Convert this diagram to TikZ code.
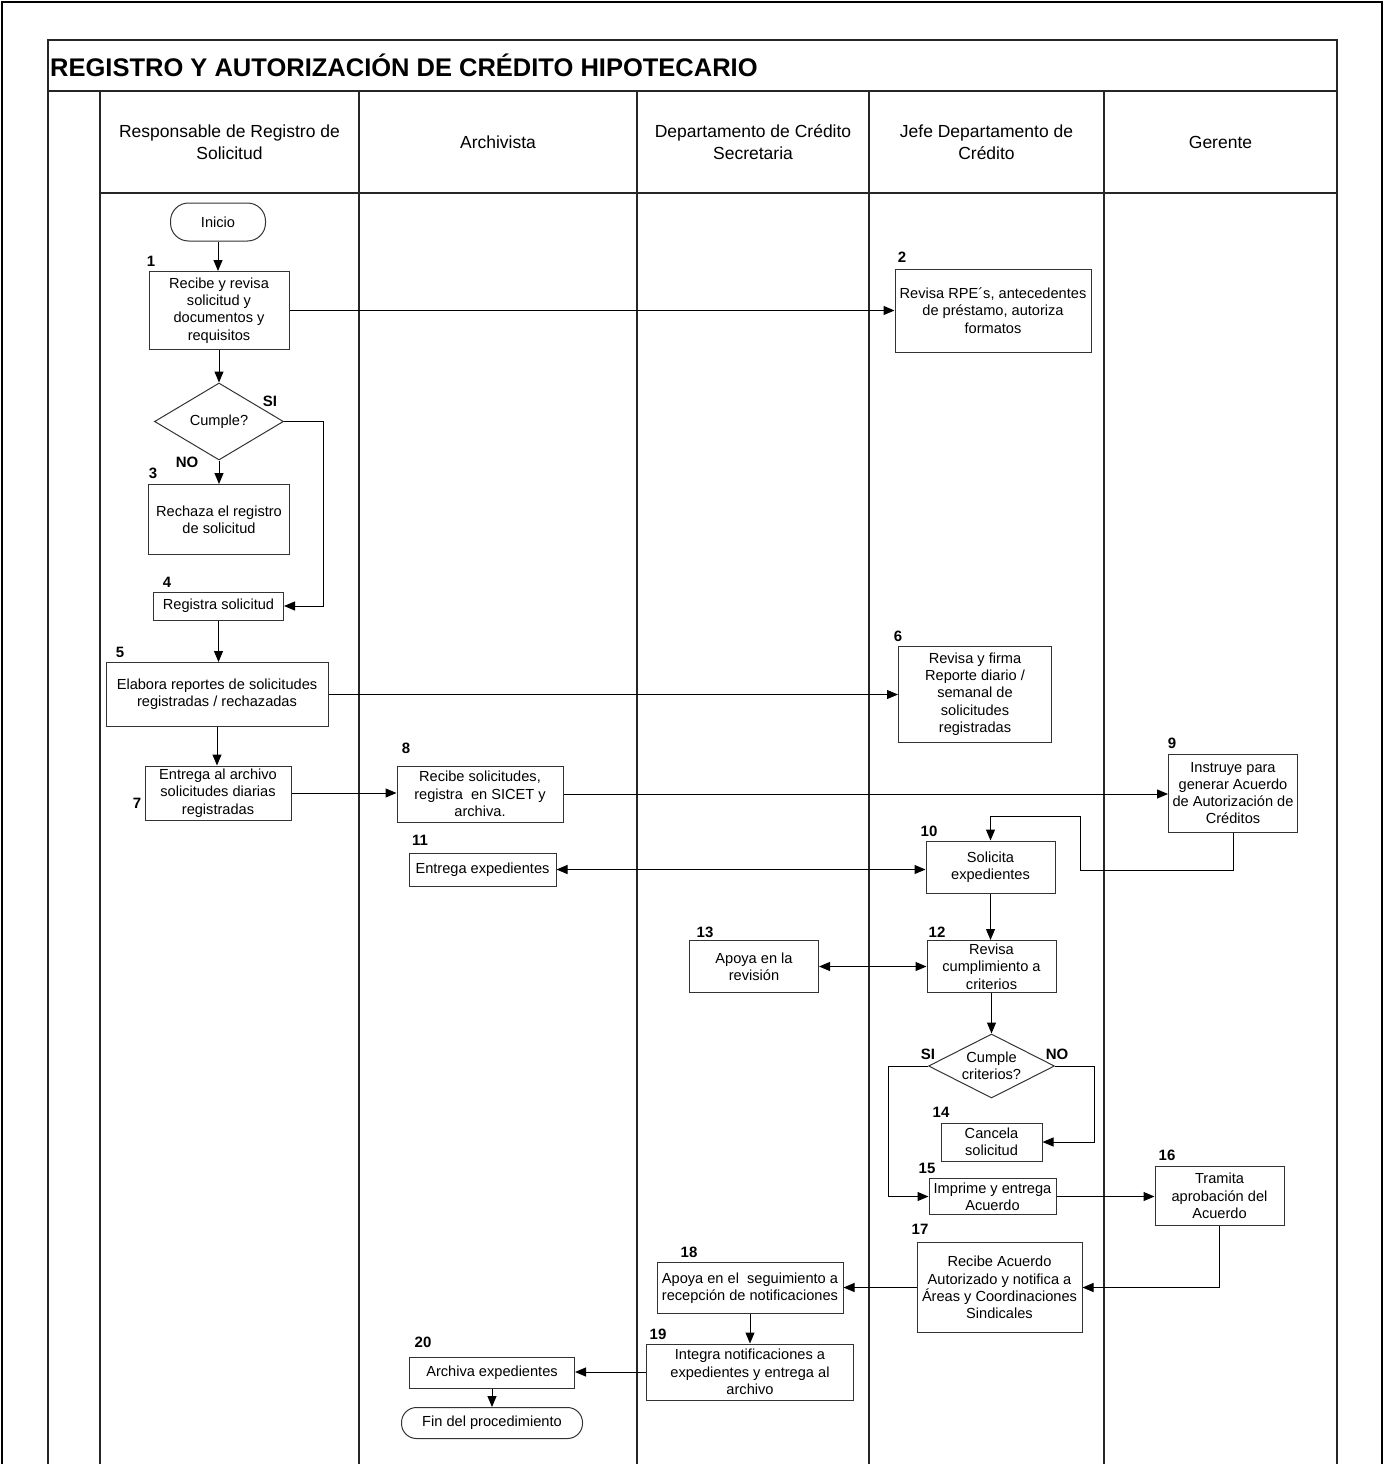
\documentclass[tikz,border=0pt]{standalone}
\usepackage{fontspec}
\setmainfont{Liberation Sans}
\usetikzlibrary{shapes.geometric,arrows.meta}
\begin{document}
\begin{tikzpicture}[x=1pt,y=-1pt,
  box/.style={draw=black!80, line width=1pt, rectangle, inner sep=0pt, align=center, font=\fontsize{14.6}{17.3}\selectfont},
  term/.style={box},
  dec/.style={draw=black!80, line width=1pt, diamond, aspect=2, inner sep=0pt, align=center, font=\fontsize{14.6}{17.3}\selectfont},
  num/.style={font=\bfseries\fontsize{15}{17}\selectfont, inner sep=0pt},
  hdr/.style={align=center, font=\fontsize{17.5}{22}\selectfont, inner sep=0pt},
  lane/.style={line width=1.5pt, black!85},
  arr/.style={line width=1pt, -{Triangle[length=11pt,width=9pt]}},
  arrb/.style={line width=1pt, {Triangle[length=11pt,width=9pt]}-{Triangle[length=11pt,width=9pt]}},
]
\useasboundingbox (0,0) rectangle (1386,1464);
% outer frame
\draw[line width=2.2pt] (2,1464) -- (2,2) -- (1382,2) -- (1382,1464);
% table
\draw[lane] (48,1464) -- (48,40) -- (1337,40) -- (1337,1464);
\draw[lane] (48,91) -- (1337,91);
\draw[lane] (100,193) -- (1337,193);
\foreach \x in {100,359,637,869,1104} \draw[lane] (\x,91) -- (\x,1464);
\node[anchor=west, font=\bfseries\fontsize{25.5}{30}\selectfont, inner sep=0pt] (title) at (50,65) {REGISTRO Y AUTORIZACIÓN DE CRÉDITO HIPOTECARIO};
% headers
\node[hdr] (h1) at (229.5,142) {Responsable de Registro de\\Solicitud};
\node[hdr] (h2) at (498,142) {Archivista};
\node[hdr] (h3) at (753,142) {Departamento de Crédito\\Secretaria};
\node[hdr] (h4) at (986.5,142) {Jefe Departamento de\\Crédito};
\node[hdr] (h5) at (1220.5,142) {Gerente};
% nodes
\node[term, minimum width=95, minimum height=38, rounded corners=18pt] (ini) at (218,222) {Inicio};
\node[box, minimum width=140, minimum height=78] (n1) at (219,310.5) {Recibe y revisa\\solicitud y\\documentos y\\requisitos};
\node[num] (l1) at (151,261) {1};
\node[box, minimum width=196, minimum height=83] (n2) at (993,310.5) {Revisa RPE´s, antecedentes\\de préstamo, autoriza\\formatos};
\node[num] (l2) at (902,257) {2};
\node[dec, minimum width=129, minimum height=77] (d1) at (219,421.5) {Cumple?};
\node[num] (si1) at (270,401) {SI};
\node[num] (no1) at (187,462) {NO};
\node[box, minimum width=141, minimum height=70] (n3) at (219,519.5) {Rechaza el registro\\de solicitud};
\node[num] (l3) at (153,473) {3};
\node[box, minimum width=130, minimum height=28] (n4) at (218.5,606) {Registra solicitud};
\node[num] (l4) at (167,582) {4};
\node[box, minimum width=222, minimum height=64] (n5) at (217,694.5) {Elabora reportes de solicitudes\\registradas / rechazadas};
\node[num] (l5) at (120,652) {5};
\node[box, minimum width=153, minimum height=96] (n6) at (975,694) {Revisa y firma\\Reporte diario /\\semanal de\\solicitudes\\registradas};
\node[num] (l6) at (898,636) {6};
\node[box, minimum width=146, minimum height=54] (n7) at (218,793) {Entrega al archivo\\solicitudes diarias\\registradas};
\node[num] (l7) at (137,803) {7};
\node[box, minimum width=166, minimum height=56] (n8) at (480,794) {Recibe solicitudes,\\registra\ \ en SICET y\\archiva.};
\node[num] (l8) at (406,748) {8};
\node[box, minimum width=129, minimum height=78] (n9) at (1233,793) {Instruye para\\generar Acuerdo\\de Autorización de\\Créditos};
\node[num] (l9) at (1172,743) {9};
\node[box, minimum width=129, minimum height=52] (n10) at (990.5,867) {Solicita\\expedientes};
\node[num] (l10) at (929,831) {10};
\node[box, minimum width=147, minimum height=33] (n11) at (482.5,869.5) {Entrega expedientes};
\node[num] (l11) at (420,840) {11};
\node[box, minimum width=129, minimum height=52] (n12) at (991.5,966.5) {Revisa\\cumplimiento a\\criterios};
\node[num] (l12) at (937,932) {12};
\node[box, minimum width=129, minimum height=52] (n13) at (754,966.5) {Apoya en la\\revisión};
\node[num] (l13) at (705,932) {13};
\node[dec, minimum width=126, minimum height=64] (d2) at (991.5,1066) {Cumple\\criterios?};
\node[num] (si2) at (928,1054) {SI};
\node[num] (no2) at (1057,1054) {NO};
\node[box, minimum width=101, minimum height=38] (n14) at (991.5,1142) {Cancela\\solicitud};
\node[num] (l14) at (941,1112) {14};
\node[box, minimum width=127, minimum height=36] (n15) at (992.5,1196.5) {Imprime y entrega\\Acuerdo};
\node[num] (l15) at (927,1168) {15};
\node[box, minimum width=129, minimum height=59] (n16) at (1219.5,1196) {Tramita\\aprobación del\\Acuerdo};
\node[num] (l16) at (1167,1155) {16};
\node[box, minimum width=165, minimum height=90] (n17) at (999.5,1287.5) {Recibe Acuerdo\\Autorizado y notifica a\\Áreas y Coordinaciones\\Sindicales};
\node[num] (l17) at (920,1229) {17};
\node[box, minimum width=186, minimum height=51] (n18) at (750,1288) {Apoya en el\ \ seguimiento a\\recepción de notificaciones};
\node[num] (l18) at (689,1252) {18};
\node[box, minimum width=207, minimum height=56] (n19) at (750,1372) {Integra notificaciones a\\expedientes y entrega al\\archivo};
\node[num] (l19) at (658,1334) {19};
\node[box, minimum width=165, minimum height=31] (n20) at (492,1372.5) {Archiva expedientes};
\node[num] (l20) at (423,1342) {20};
\node[term, minimum width=181, minimum height=31, rounded corners=15pt] (fin) at (492,1423) {Fin del procedimiento};
% helper coordinates
\coordinate (c9a) at (1080,870);
\coordinate (c9b) at (1080,816);
% connectors
\draw[arr] (ini.south) -- (ini.south |- n1.north);
\draw[arr] (n1.east) -- (n1.east -| n2.west);
\draw[arr] (n1.south) -- (n1.south |- d1.north);
\draw[arr] (d1.south) -- (d1.south |- n3.north);
\draw[arr] (d1.east) -- ++(39,0) |- (n4.east);
\draw[arr] (n4.south) -- (n4.south |- n5.north);
\draw[arr] (n5.east) -- (n5.east -| n6.west);
\draw[arr] (n5.south) -- (n5.south |- n7.north);
\draw[arr] (n7.east) -- (n7.east -| n8.west);
\draw[arr] (n8.east) -- (n8.east -| n9.west);
\draw[arr] (n9.south) |- (c9a) -- (c9b) -| (n10.north);
\draw[arrb] (n11.east) -- (n11.east -| n10.west);
\draw[arr] (n10.south) -- (n10.south |- n12.north);
\draw[arrb] (n13.east) -- (n13.east -| n12.west);
\draw[arr] (n12.south) -- (n12.south |- d2.north);
\draw[arr] (d2.east) -- ++(39,0) |- (n14.east);
\draw[arr] (d2.west) -- ++(-40,0) |- (n15.west);
\draw[arr] (n15.east) -- (n15.east -| n16.west);
\draw[arr] (n16.south) |- (n17.east);
\draw[arr] (n17.west) -- (n17.west -| n18.east);
\draw[arr] (n18.south) -- (n18.south |- n19.north);
\draw[arr] (n19.west) -- (n19.west -| n20.east);
\draw[arr] (n20.south) -- (n20.south |- fin.north);
\end{tikzpicture}
\end{document}
